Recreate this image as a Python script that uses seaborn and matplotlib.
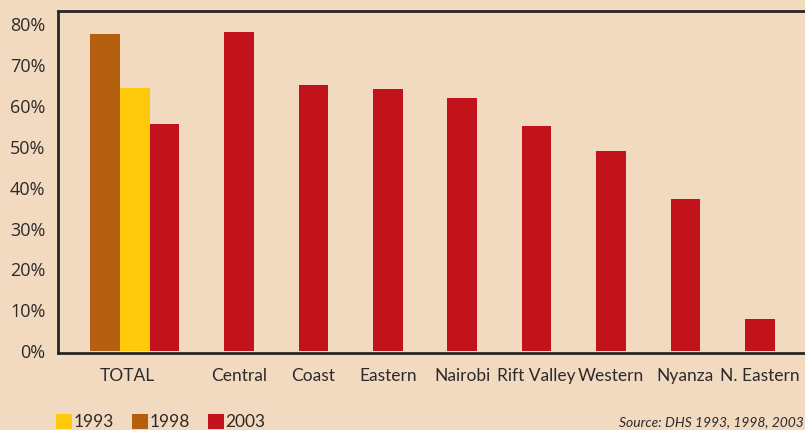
import matplotlib
matplotlib.use("Agg")
import matplotlib.pyplot as plt
import seaborn as sns
import pandas as pd
import numpy as np
from matplotlib.patches import Patch

regions = ["Central", "Coast", "Eastern", "Nairobi", "Rift Valley", "Western", "Nyanza", "N. Eastern"]
region_2003 = [78.2, 65.2, 64.2, 62.0, 55.1, 49.0, 37.3, 7.8]
total_years = ["1998", "1993", "2003"]
total_values = [77.7, 64.5, 55.6]
hue_order = ["1993", "1998", "2003"]
yticks = [0, 10, 20, 30, 40, 50, 60, 70, 80]
source = "Source: DHS 1993, 1998, 2003"

bg = "#f2dac1"
colors = {"1993": "#fec90b", "1998": "#b55f10", "2003": "#c2131c"}
txt = "#2d2a2a"

# layout positions (units of region spacing)
bw = 0.4
total_pos = [-2 * bw, -bw, 0.0]
region_pos = list(np.arange(1, len(regions) + 1, dtype=float))

df = pd.DataFrame({
    "pos": total_pos + region_pos,
    "value": total_values + region_2003,
    "year": total_years + ["2003"] * len(regions),
})

sns.set_theme(style="white")
plt.rcParams["font.family"] = ["Lato", "DejaVu Sans"]

fig = plt.figure(figsize=(8.05, 4.30), dpi=100, facecolor=bg)
ax = fig.add_axes([58 / 805, (430 - 353) / 430, 1 - 58 / 805, (353 - 11) / 430])
ax.set_facecolor(bg)

sns.barplot(data=df, x="pos", y="value", hue="year", hue_order=hue_order,
            palette=colors, native_scale=True, dodge=False, width=1.0,
            saturation=1, ax=ax, legend=False, errorbar=None, linewidth=0)

ax.set_xlim((58 - 164.6) / 74.4, (805 - 164.6) / 74.4)
ax.set_ylim(-0.5, 83.3)
ax.set_yticks(yticks)
ax.set_yticklabels([f"{t}%" for t in yticks], fontsize=13, color=txt,
                   family=["Open Sans", "DejaVu Sans"])
ax.set_xticks([-0.5] + region_pos)
ax.set_xticklabels(["TOTAL"] + regions, fontsize=12.5, color=txt)
ax.tick_params(axis="both", length=0)
ax.tick_params(axis="x", pad=11)
ax.tick_params(axis="y", pad=9)
ax.set_xlabel("")
ax.set_ylabel("")
for s in ["left", "top", "bottom"]:
    ax.spines[s].set_color("#2a2626")
    ax.spines[s].set_linewidth(2.0)
ax.spines["right"].set_visible(False)

handles = [Patch(facecolor=colors[y], edgecolor="none", label=y) for y in hue_order]
fig.legend(handles=handles, loc="center left", bbox_to_anchor=(56 / 805, 1 - 422 / 430),
           ncol=3, frameon=False, fontsize=12.5, handlelength=0.9, handleheight=0.95,
           handletextpad=0.1, columnspacing=1.05, borderpad=0, borderaxespad=0,
           labelcolor=txt)

fig.text(804 / 805, 1 - 422 / 430, source, ha="right", va="center",
         fontsize=10, style="italic", color=txt)

fig.savefig("out.png", dpi=100, facecolor=bg)
